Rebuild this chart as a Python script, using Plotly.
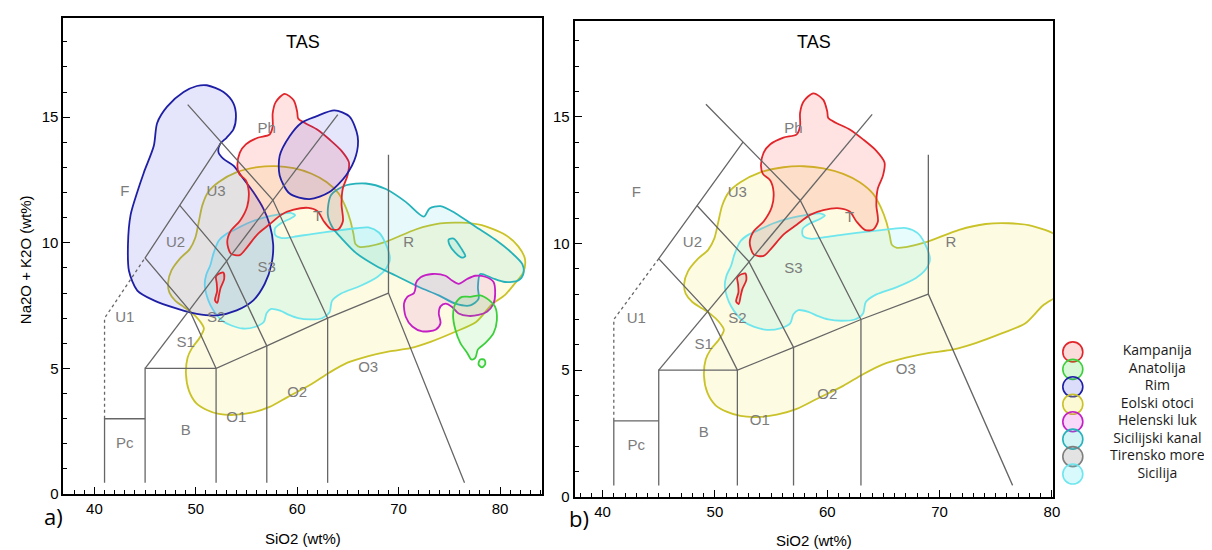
import plotly.graph_objects as go

W, H = 1212, 550

# ---------------- TAS classification diagram (SiO2 vs Na2O+K2O) ----------------
TAS_SOLID_X = [
    [41, 41, 45],
    [45, 45, 52],
    [52, 52, 57, 63, 69, 76.5],
    [57, 57],
    [63, 63],
    [69, 69],
    [45, 64.0],
    [52, 49.4, 45, 48.4, 52.5],
    [57, 53, 48.4],
    [63, 57.6, 49.2],
]
TAS_SOLID_Y = [
    [0.45, 3, 3],
    [0.45, 5, 5],
    [0.45, 5, 5.9, 7, 8, 0.45],
    [0.45, 5.9],
    [0.45, 7],
    [8, 13.5],
    [5, 15.1],
    [5, 7.3, 9.4, 11.5, 14],
    [5.9, 9.3, 11.5],
    [7, 11.7, 15.5],
]
TAS_DOTTED_X = [41, 41, 45]
TAS_DOTTED_Y = [3, 7, 9.4]

FIELD_NAMES = ["F", "U3", "U2", "U1", "S3", "S2", "S1", "Ph", "T", "R", "O3", "O2", "O1", "B", "Pc"]
FIELD_X = [43, 52, 48, 43, 57, 52, 49, 57, 62, 71, 67, 60, 54, 49, 43]
FIELD_Y = [12, 12, 10, 7, 9, 7, 6, 14.5, 11, 10, 5, 4, 3, 2.5, 2]

# ---------------- region outlines (SiO2, Na2O+K2O) ----------------
KAMPANIJA_X = [57.88, 58.76, 59.65, 60.0, 60.09, 60.8, 62.0, 63.19, 64.37, 65.1, 64.96, 64.5, 64.37, 64.51,
               64.07, 63.34, 62.6, 62.0, 61.1, 59.65, 58.47, 57.28, 56.1, 55.07, 54.34, 53.45, 53.1, 53.45,
               54.34, 55.07, 55.22, 54.93, 54.27, 54.1, 54.34, 54.93, 56.1, 57.28, 57.58, 57.58]
KAMPANIJA_Y = [15.60, 15.93, 15.67, 15.21, 14.95, 14.76, 14.50, 14.11, 13.66, 13.2, 12.68, 12.17, 11.52, 10.87,
               10.54, 10.54, 10.87, 11.26, 11.39, 11.32, 11.13, 10.74, 10.35, 9.83, 9.51, 9.57, 10.03, 10.48,
               10.87, 11.45, 12.04, 12.49, 12.75, 13.07, 13.59, 13.92, 14.18, 14.31, 14.63, 15.15]
KAMPANIJA2_X = [52.12, 52.71, 52.8, 52.45, 52.3, 52.12, 51.89, 52.1, 52.06, 51.98]
KAMPANIJA2_Y = [8.73, 8.82, 8.56, 8.21, 7.95, 7.61, 7.71, 8.08, 8.40, 8.65]

EOLSKI_X = [47.26, 47.6, 48.5, 49.4, 49.95, 50.3, 50.65, 51.24, 52.27, 54.04, 56.1, 57.88, 59.65, 61.42,
            62.89, 64.07, 64.81, 65.25, 65.55, 65.75, 66.2, 67.02, 68.8, 71.74, 74.1, 76.17, 78.2, 80.5,
            81.8, 82.46, 82.3, 81.48, 80.5, 79.2, 77.64, 75.58, 73.21, 71.15, 69.09, 67.02, 64.96, 63.19,
            61.42, 59.05, 57.28, 55.51, 53.74, 52.27, 51.09, 50.06, 49.32, 49.03, 49.18, 49.62, 50.35,
            50.8, 50.35, 49.62, 48.88, 47.99, 47.4]
EOLSKI_Y = [8.40, 8.9, 9.4, 9.75, 10.2, 10.85, 11.5, 12.03, 12.42, 12.81, 13.01, 13.05, 12.97, 12.75,
            12.42, 11.97, 11.39, 10.87, 10.35, 9.95, 9.83, 9.86, 10.05, 10.54, 10.77, 10.8, 10.7, 10.32,
            9.86, 9.35, 8.83, 8.39, 7.93, 7.55, 6.85, 6.46, 6.07, 5.81, 5.68, 5.49, 5.23, 4.84,
            4.38, 3.86, 3.47, 3.24, 3.15, 3.19, 3.35, 3.61, 4.12, 4.77, 5.42, 5.81, 6.2,
            6.59, 6.91, 7.21, 7.43, 7.69, 8.02]

SICILIJA_X = [50.88, 51.03, 51.44, 51.74, 52.27, 53.0, 53.74, 55.22, 56.7, 58.17, 59.35, 59.79, 59.35,
              58.47, 57.82, 57.82, 58.47, 59.65, 61.42, 63.78, 65.84, 67.02, 68.05, 68.65, 69.14, 68.79,
              67.9, 66.14, 64.37, 63.43, 63.19, 62.45, 61.27, 60.09, 59.2, 58.32, 57.43, 56.99, 56.7,
              55.81, 54.63, 53.45, 52.57, 51.92, 51.44, 51.09]
SICILIJA_Y = [8.34, 8.73, 9.12, 9.57, 10.09, 10.35, 10.5, 10.8, 11.0, 11.13, 11.19, 11.1, 10.97,
              10.8, 10.58, 10.32, 10.19, 10.24, 10.35, 10.48, 10.58, 10.61, 10.41, 10.03, 9.38, 8.99,
              8.64, 8.27, 7.99, 7.69, 7.24, 7.0, 6.95, 7.0, 7.13, 7.3, 7.37, 7.21, 6.85,
              6.65, 6.59, 6.72, 6.91, 7.21, 7.52, 7.88]

RIM_X = [51.09, 52.73, 53.71, 53.96, 53.71, 53.05, 52.39, 52.24, 52.73, 53.71, 54.69, 55.67, 56.65,
         57.29, 57.63, 57.46, 56.8, 55.67, 54.03, 52.07, 50.1, 48.15, 45.86, 44.23, 43.41, 43.31,
         43.57, 44.23, 44.88, 45.86, 46.19, 47.17, 48.8, 50.1]
RIM_Y = [16.27, 16.0, 15.55, 15.03, 14.51, 14.19, 13.93, 13.6, 13.34, 13.07, 12.55, 12.02, 11.37,
         10.72, 9.93, 9.14, 8.37, 7.71, 7.31, 7.11, 7.17, 7.38, 7.71, 8.1, 8.88, 9.93,
         11.11, 12.02, 12.8, 13.86, 14.77, 15.42, 16.0, 16.24]
RIM2_X = [61.87, 63.67, 65.14, 65.96, 65.79, 64.81, 63.18, 61.22, 59.25, 58.27, 58.27, 59.25, 60.4]
RIM2_Y = [15.03, 15.27, 15.03, 14.24, 13.46, 12.68, 12.02, 11.74, 11.96, 12.68, 13.46, 14.24, 14.77]

SIC_KANAL_X = [63.02, 63.34, 64.81, 66.77, 68.74, 70.7, 72.49, 73.05, 74.13, 75.6, 77.56, 79.52, 81.16,
               82.2, 82.3, 81.8, 80.5, 79.2, 78.05, 77.82, 77.88, 77.07, 75.6, 73.96, 72.0, 70.04,
               67.75, 65.79, 64.49, 63.51]
SIC_KANAL_Y = [11.11, 11.9, 12.29, 12.36, 12.14, 11.63, 11.04, 11.37, 11.46, 11.18, 10.65, 10.13, 9.6,
               9.15, 8.76, 8.5, 8.44, 8.6, 8.76, 8.24, 7.77, 7.51, 7.58, 7.91, 8.24, 8.63,
               9.09, 9.6, 10.13, 10.59]
SIC_KANAL2_X = [74.94, 75.43, 76.25, 76.58, 76.25, 75.6, 75.01]
SIC_KANAL2_Y = [10.13, 10.17, 9.73, 9.47, 9.41, 9.6, 9.93]

HELENSKI_X = [71.68, 72.17, 73.31, 74.62, 75.27, 75.92, 76.75, 77.56, 78.54, 79.36, 79.52, 79.36, 78.71,
              77.88, 76.9, 75.92, 75.27, 74.62, 74.13, 73.96, 74.13, 73.64, 72.33, 71.35, 70.7, 70.53,
              70.86, 71.51, 71.68]
HELENSKI_Y = [8.37, 8.63, 8.76, 8.69, 8.5, 8.37, 8.56, 8.69, 8.65, 8.44, 7.97, 7.58, 7.26,
              7.13, 7.09, 7.19, 7.45, 7.58, 7.47, 7.19, 6.8, 6.54, 6.48, 6.67, 7.06, 7.58,
              7.85, 8.0, 8.24]

ANATOLIJA_X = [75.6, 76.25, 77.07, 78.05, 78.86, 79.52, 79.69, 79.36, 78.54, 77.82, 77.56, 77.17, 76.75,
               76.09, 75.6, 75.37]
ANATOLIJA_Y = [7.58, 7.85, 7.85, 7.91, 7.74, 7.45, 6.92, 6.41, 6.01, 5.76, 5.42, 5.36, 5.63,
               6.01, 6.54, 7.13]
ANATOLIJA2_X = [78.05, 78.47, 78.54, 78.22, 77.88]
ANATOLIJA2_Y = [5.36, 5.34, 5.17, 5.04, 5.17]

LEGEND_NAMES = ["Kampanija", "Anatolija", "Rim", "Eolski otoci", "Helenski luk",
                "Sicilijski kanal", "Tirensko more", "Sicilija"]

# ---------------- styles ----------------
STY = {
    "Kampanija": ("#e0262b", "rgba(255,40,40,0.13)", "rgba(240,90,90,0.22)"),
    "Anatolija": ("#3ccf3c", "rgba(60,220,60,0.12)", "rgba(60,220,60,0.20)"),
    "Rim": ("#1f1fa6", "rgba(40,40,230,0.12)", "rgba(40,40,230,0.16)"),
    "Eolski otoci": ("#c9c229", "rgba(240,230,60,0.15)", "rgba(240,230,60,0.22)"),
    "Helenski luk": ("#c41fc4", "rgba(220,40,220,0.11)", "rgba(220,40,220,0.18)"),
    "Sicilijski kanal": ("#26b2ba", "rgba(40,200,210,0.11)", "rgba(40,200,210,0.20)"),
    "Tirensko more": ("#7f7f7f", "rgba(128,128,128,0.16)", "rgba(128,128,128,0.22)"),
    "Sicilija": ("#6fe6ee", "rgba(60,230,240,0.13)", "rgba(60,230,240,0.20)"),
}

fig = go.Figure()


def region(xs, ys, name, xa, ya):
    line, fill, _ = STY[name]
    fig.add_trace(go.Scatter(
        x=list(xs) + [xs[0]], y=list(ys) + [ys[0]], mode="lines", fill="toself",
        fillcolor=fill, line=dict(color=line, width=1.8, shape="spline", smoothing=0.8),
        xaxis=xa, yaxis=ya, showlegend=False, hoverinfo="skip", name=name))


def tas(xa, ya):
    for xs, ys in zip(TAS_SOLID_X, TAS_SOLID_Y):
        fig.add_trace(go.Scatter(x=xs, y=ys, mode="lines", line=dict(color="#666666", width=1.3),
                                 xaxis=xa, yaxis=ya, showlegend=False, hoverinfo="skip"))
    fig.add_trace(go.Scatter(x=TAS_DOTTED_X, y=TAS_DOTTED_Y, mode="lines",
                             line=dict(color="#666666", width=1.3, dash="dot"),
                             xaxis=xa, yaxis=ya, showlegend=False, hoverinfo="skip"))
    fig.add_trace(go.Scatter(x=FIELD_X, y=FIELD_Y, text=FIELD_NAMES, mode="text",
                             textfont=dict(family="Liberation Sans, Arial", size=15, color="#7c7c7c"),
                             xaxis=xa, yaxis=ya, showlegend=False, hoverinfo="skip"))


# panel a
region(EOLSKI_X, EOLSKI_Y, "Eolski otoci", "x", "y")
region(SICILIJA_X, SICILIJA_Y, "Sicilija", "x", "y")
region(SIC_KANAL_X, SIC_KANAL_Y, "Sicilijski kanal", "x", "y")
region(SIC_KANAL2_X, SIC_KANAL2_Y, "Sicilijski kanal", "x", "y")
region(RIM_X, RIM_Y, "Rim", "x", "y")
region(KAMPANIJA_X, KAMPANIJA_Y, "Kampanija", "x", "y")
region(KAMPANIJA2_X, KAMPANIJA2_Y, "Kampanija", "x", "y")
region(RIM2_X, RIM2_Y, "Rim", "x", "y")
region(HELENSKI_X, HELENSKI_Y, "Helenski luk", "x", "y")
region(ANATOLIJA_X, ANATOLIJA_Y, "Anatolija", "x", "y")
region(ANATOLIJA2_X, ANATOLIJA2_Y, "Anatolija", "x", "y")
tas("x", "y")

# panel b
region(EOLSKI_X, EOLSKI_Y, "Eolski otoci", "x2", "y2")
region(SICILIJA_X, SICILIJA_Y, "Sicilija", "x2", "y2")
region(KAMPANIJA_X, KAMPANIJA_Y, "Kampanija", "x2", "y2")
region(KAMPANIJA2_X, KAMPANIJA2_Y, "Kampanija", "x2", "y2")
tas("x2", "y2")

# custom legend (swatch column at x=0, label column at x=1, rows by index)
idx = list(range(len(LEGEND_NAMES)))
fig.add_trace(go.Scatter(
    x=[0] * len(idx), y=idx, mode="markers",
    marker=dict(size=20, color=[STY[n][2] for n in LEGEND_NAMES],
                line=dict(color=[STY[n][0] for n in LEGEND_NAMES], width=1.6)),
    xaxis="x3", yaxis="y3", showlegend=False, hoverinfo="skip"))
fig.add_trace(go.Scatter(
    x=[1] * len(idx), y=idx, mode="text", text=LEGEND_NAMES,
    textfont=dict(family="Open Sans", size=14, color="#1a1a1a"),
    xaxis="x3", yaxis="y3", showlegend=False, hoverinfo="skip"))


def px2dom(a, b, total):
    return [a / total, b / total]


A_L, A_R, A_T, A_B = 55.8, 537.0, 10.3, 493.3
B_L, B_R, B_T, B_B = 570.0, 1051.0, 13.3, 496.0

tickfont = dict(family="Liberation Sans, Arial", size=15, color="black")


def xax(dom, rng):
    return dict(domain=dom, range=rng, showline=True, linecolor="black", linewidth=2, mirror=True,
                ticks="inside", ticklen=7, tickwidth=1.4, tickcolor="black", tick0=0, dtick=10,
                minor=dict(ticks="inside", ticklen=4, tickwidth=1, tickcolor="black", dtick=1),
                showgrid=False, zeroline=False, tickfont=tickfont, fixedrange=True)


def yax(dom, rng, anchor):
    d = xax(dom, rng)
    d.update(dtick=5, anchor=anchor)
    return d


fig.update_layout(
    width=W, height=H, margin=dict(l=0, r=0, t=0, b=0),
    paper_bgcolor="white", plot_bgcolor="white",
    xaxis=dict(xax(px2dom(A_L, A_R, W), [36.95, 84.13]), anchor="y"),
    yaxis=yax([1 - A_B / H, 1 - A_T / H], [0, 18.94], "x"),
    xaxis2=dict(xax(px2dom(B_L, B_R, W), [37.52, 80.09]), anchor="y2"),
    yaxis2=yax([1 - B_B / H, 1 - B_T / H], [0, 18.78], "x2"),
    xaxis3=dict(domain=[1052 / W, 1.0], range=[-19 / 85, 141 / 85], visible=False, anchor="y3",
                fixedrange=True),
    yaxis3=dict(domain=[0, 1], range=[(H - 349) / 17.7, -349 / 17.7], visible=False, anchor="x3",
                fixedrange=True),
    showlegend=False,
)

font15 = dict(family="Liberation Sans, Arial", size=15, color="black")
ann = []
for xr in ["x domain", "x2 domain"]:
    ann.append(dict(text="TAS", xref=xr, yref="paper", x=0.5, y=1 - 34 / H, showarrow=False,
                    xanchor="center", yanchor="middle",
                    font=dict(family="Liberation Sans, Arial", size=18, color="black")))
ann.append(dict(text="SiO2 (wt%)", xref="x domain", yref="paper", x=0.5, y=1 - 538 / H,
                xanchor="center", yanchor="middle", showarrow=False, font=font15))
ann.append(dict(text="SiO2 (wt%)", xref="x2 domain", yref="paper", x=0.5, y=1 - 540 / H,
                xanchor="center", yanchor="middle", showarrow=False, font=font15))
ann.append(dict(text="Na2O + K2O (wt%)", xref="paper", yref="paper", x=17 / W, y=1 - 255 / H,
                xanchor="center", yanchor="middle", textangle=-90, showarrow=False, font=font15))
ann.append(dict(text="a)", xref="paper", yref="paper", x=46 / W, y=1 - 516 / H, showarrow=False,
                xanchor="center", yanchor="middle",
                font=dict(family="Open Sans", size=22, color="black")))
ann.append(dict(text="b)", xref="paper", yref="paper", x=574 / W, y=1 - 518 / H, showarrow=False,
                xanchor="center", yanchor="middle",
                font=dict(family="Open Sans", size=22, color="black")))
fig.update_layout(annotations=ann)

fig.write_html("out.html")
